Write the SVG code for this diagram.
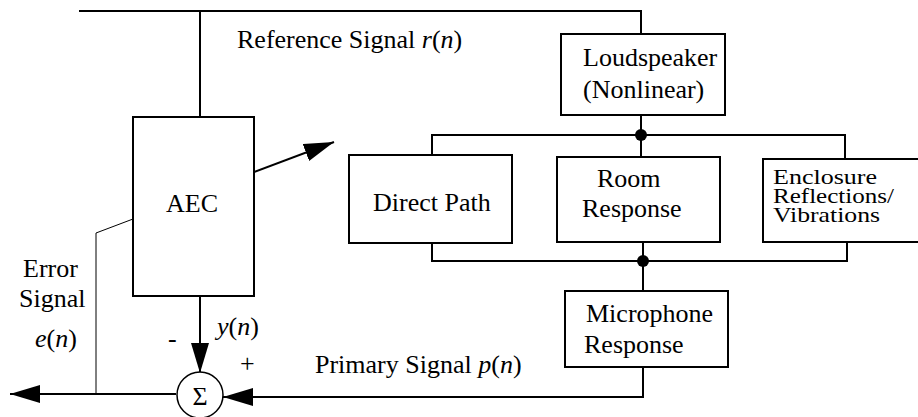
<svg xmlns="http://www.w3.org/2000/svg" width="918" height="417" viewBox="0 0 918 417">
<defs>
<style>
.box{fill:#fff;stroke:#000;stroke-width:2}
.ln{fill:none;stroke:#000;stroke-width:2}
.thin{fill:none;stroke:#000;stroke-width:1}
text{font-family:"Liberation Serif","Times New Roman",serif;font-size:26px;fill:#000}
.i{font-style:italic}
.sm{font-size:21px}
</style>
<marker id="ah" markerUnits="userSpaceOnUse" markerWidth="32" markerHeight="20" refX="30" refY="9" orient="auto" viewBox="0 0 32 20">
<path d="M0,0 L30,9 L0,18 z" fill="#000"/>
</marker>
</defs>
<rect width="918" height="417" fill="#fff"/>
<g id="connectors">
<path class="ln" d="M79,11 H641 V34"/>
<path class="ln" d="M200,11 V117"/>
<path class="ln" d="M641,115 V135"/>
<path class="ln" d="M432,155 V135 H845 V159"/>
<path class="ln" d="M641,135 V157"/>
<path class="ln" d="M432,243 V261 H847 V242"/>
<path class="ln" d="M643,242 V291"/>
<circle cx="641" cy="135" r="6" fill="#000"/>
<circle cx="643" cy="261" r="6" fill="#000"/>
<path class="ln" d="M643,367 V397 H223" marker-end="url(#ah)"/>
<path class="ln" d="M200,296 V373" marker-end="url(#ah)"/>
<path class="ln" d="M176,394 H10" marker-end="url(#ah)"/>
<path class="thin" d="M96,394 V233 L133,219"/>
<path class="ln" d="M254,172 L334,142" marker-end="url(#ah)"/>
</g>
<g id="aec">
<rect class="box" x="133" y="117" width="121" height="179"/>
<text x="166" y="212">AEC</text>
</g>
<g id="loudspeaker">
<rect class="box" x="561" y="34" width="164" height="81"/>
<text x="583" y="66">Loudspeaker</text>
<text x="583" y="98">(Nonlinear)</text>
</g>
<g id="direct">
<rect class="box" x="349" y="155" width="163" height="88"/>
<text x="373" y="211">Direct Path</text>
</g>
<g id="room">
<rect class="box" x="557" y="157" width="163" height="85"/>
<text x="597" y="187">Room</text>
<text x="582" y="217">Response</text>
</g>
<g id="enclosure">
<rect class="box" x="763" y="159" width="170" height="83"/>
<text class="sm" x="773" y="184" textLength="104" lengthAdjust="spacingAndGlyphs">Enclosure</text>
<text class="sm" x="773" y="203" textLength="121" lengthAdjust="spacingAndGlyphs">Reflections/</text>
<text class="sm" x="773" y="222" textLength="107" lengthAdjust="spacingAndGlyphs">Vibrations</text>
</g>
<g id="microphone">
<rect class="box" x="565" y="291" width="163" height="76"/>
<text x="586" y="322">Microphone</text>
<text x="584" y="353">Response</text>
</g>
<g id="sum">
<circle cx="200" cy="395" r="23" fill="#fff" stroke="#000" stroke-width="1.5"/>
<text x="200" y="405" text-anchor="middle">Σ</text>
</g>
<g id="labels">
<text x="237" y="48">Reference Signal <tspan class="i">r</tspan>(<tspan class="i">n</tspan>)</text>
<text x="23" y="277">Error</text>
<text x="19" y="307">Signal</text>
<text x="35" y="347"><tspan class="i">e</tspan>(<tspan class="i">n</tspan>)</text>
<text x="168" y="347">-</text>
<text x="217" y="335"><tspan class="i">y</tspan>(<tspan class="i">n</tspan>)</text>
<text x="240" y="372">+</text>
<text x="315" y="373">Primary Signal <tspan class="i">p</tspan>(<tspan class="i">n</tspan>)</text>
</g>
</svg>
